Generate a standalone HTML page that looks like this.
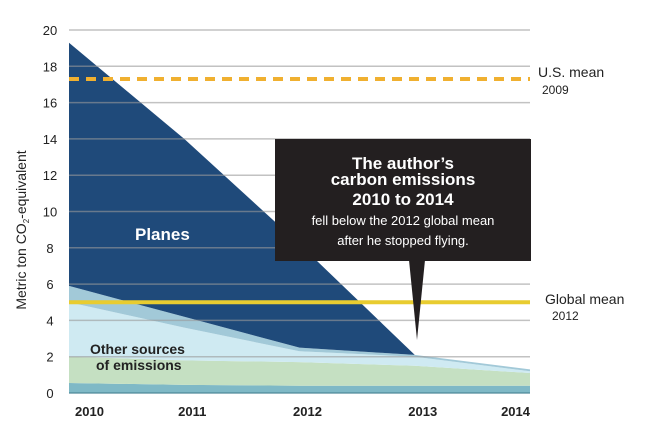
<!DOCTYPE html>
<html><head><meta charset="utf-8"><style>
body{margin:0;background:#fff;}
svg{display:block;font-family:"Liberation Sans",sans-serif;}
</style></head><body>
<svg width="650" height="440" viewBox="0 0 650 440" xmlns="http://www.w3.org/2000/svg">
<g id="layers"></g>
<g id="grid"></g>
<g id="refs"></g>
<g id="axes"></g>
<text transform="translate(26,230) rotate(-90)" text-anchor="middle" font-size="14" fill="#222">Metric ton CO<tspan font-size="8" dy="3">2</tspan><tspan dy="-3">-equivalent</tspan></text>
<text x="135" y="240" font-size="17" font-weight="bold" fill="#fff">Planes</text>
<text font-size="14" font-weight="bold" fill="#222"><tspan x="90" y="354">Other sources</tspan><tspan x="96" y="370">of emissions</tspan></text>
<g>
<rect x="275" y="139" width="256" height="122" fill="#231f20"/>
<polygon points="409,260 425,260 417,340" fill="#231f20"/>
<text text-anchor="middle" fill="#fff" font-weight="bold" font-size="17"><tspan x="403" y="169">The author’s</tspan><tspan x="403" y="185">carbon emissions</tspan><tspan x="403" y="205">2010 to 2014</tspan></text>
<text text-anchor="middle" fill="#fff" font-size="13"><tspan x="403" y="225">fell below the 2012 global mean</tspan><tspan x="403" y="245">after he stopped flying.</tspan></text>
</g>
<text font-size="14" fill="#222"><tspan x="538" y="77">U.S. mean</tspan><tspan x="542" y="94" font-size="12">2009</tspan></text>
<text font-size="14" fill="#222"><tspan x="545" y="304">Global mean</tspan><tspan x="552" y="320" font-size="12">2012</tspan></text>
<script>
const years=['2010','2011','2012','2013','2014'];
const baseTeal=[0.55,0.45,0.4,0.4,0.4];
const green=[1.45,1.35,1.3,1.1,0.7];
const lightBlue=[3.0,1.8,0.6,0.5,0.1];
const midBlue=[0.9,0.6,0.2,0.1,0.1];
const planes=[13.4,9.8,5.7,0,0];
const yTicks=[0,2,4,6,8,10,12,14,16,18,20];
const usMean=17.3;
const globalMean=5.0;
const NS='http://www.w3.org/2000/svg';
const x0=69,x1=530,yb=393,ppu=18.15;
function xs(i){return x0+i*(x1-x0)/(years.length-1);}
function ys(v){return yb-v*ppu;}
function mk(t,a,p){const e=document.createElementNS(NS,t);for(const k in a)e.setAttribute(k,a[k]);p.appendChild(e);return e;}
const series=[[baseTeal,'#7fb9c6','base-emissions'],[green,'#c5e0c2','green-emissions'],[lightBlue,'#cfeaf2','other-emissions'],[midBlue,'#a2c9d8','secondary-emissions'],[planes,'#1f4a7a','planes-area']];
const L=document.getElementById('layers');
let cum=years.map(()=>0);
series.forEach(s=>{
 const lo=cum.slice();const hi=cum.map((c,i)=>c+s[0][i]);
 let pts=hi.map((v,i)=>xs(i)+','+ys(v));
 for(let i=lo.length-1;i>=0;i--)pts.push(xs(i)+','+ys(lo[i]));
 const p=mk('polygon',{points:pts.join(' '),fill:s[1]},L);
 
 
 cum=hi;
});
const G=document.getElementById('grid');
yTicks.forEach(t=>{
 const l=mk('line',{x1:x0,x2:x1,y1:ys(t),y2:ys(t),stroke:t===0?'#4a8596':'#999','stroke-width':t===0?2:1.5,'stroke-opacity':0.6},G);
 
 
 const tx=mk('text',{x:50,y:ys(t)+5,'text-anchor':'middle','font-size':13,fill:'#222'},G);
 tx.textContent=t;
 
 
});
const R=document.getElementById('refs');
const u=mk('line',{x1:x0,x2:x1,y1:ys(usMean),y2:ys(usMean),stroke:'#f0b030','stroke-width':4,'stroke-dasharray':'10,7'},R);


const g=mk('line',{x1:x0,x2:x1,y1:ys(globalMean),y2:ys(globalMean),stroke:'#e8cc30','stroke-width':4},R);


const A=document.getElementById('axes');
years.forEach((y,i)=>{
 let anchor='middle',x=xs(i)+8;
 if(i===0){anchor='start';x=xs(i)+6;}
 if(i===years.length-1){anchor='end';x=x1;}
 const t=mk('text',{x:x,y:416,'text-anchor':anchor,'font-size':13,'font-weight':'bold',fill:'#222'},A);
 t.textContent=y;
 
 
});
</script>
</svg>
</body></html>
